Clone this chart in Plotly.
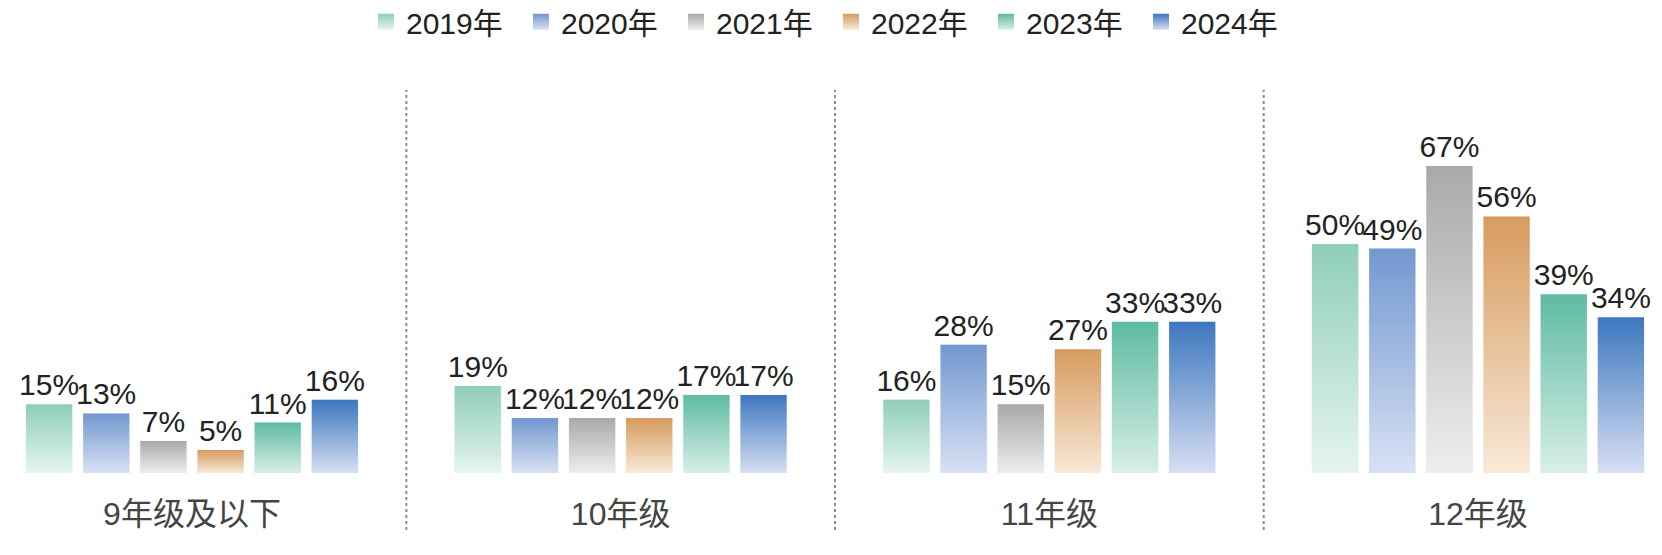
import plotly.graph_objects as go

categories = ["9年级及以下", "10年级", "11年级", "12年级"]
years = ["2019年", "2020年", "2021年", "2022年", "2023年", "2024年"]
values = {
    "2019年": [15, 19, 16, 50],
    "2020年": [13, 12, 28, 49],
    "2021年": [7, 12, 15, 67],
    "2022年": [5, 12, 27, 56],
    "2023年": [11, 17, 33, 39],
    "2024年": [16, 17, 33, 34],
}
top_colors = ["#8fceb9", "#7298d0", "#a9a9ab", "#d79b5e", "#5ebba2", "#3d77bf"]
bottom_colors = ["#e6f5ef", "#d8e1f4", "#eeeeee", "#f8e9d8", "#d9efe8", "#d7dff3"]

FONT = "Liberation Sans, Arial, Noto Sans CJK SC, sans-serif"
n = len(years)
group_width = 0.8
pitch = group_width / n
bar_w = pitch * (1 - 0.19)

fig = go.Figure()
for i, yr in enumerate(years):
    off = (i - (n - 1) / 2) * pitch
    # gradient-filled bar bodies (one per bar so each gradient spans its own height)
    for j, cat in enumerate(categories):
        v = values[yr][j]
        x0 = j + off - bar_w / 2
        x1 = j + off + bar_w / 2
        fig.add_trace(go.Scatter(
            x=[x0, x0, x1, x1, x0], y=[0, v, v, 0, 0],
            mode="lines", line=dict(width=0), fill="toself",
            fillgradient=dict(type="vertical",
                              colorscale=[[0, bottom_colors[i]], [1, top_colors[i]]]),
            name=yr, legendgroup=yr, showlegend=False,
            hoverinfo="skip",
        ))
    # bars carrying value labels / hover
    fig.add_trace(go.Bar(
        x=list(range(len(categories))), y=values[yr],
        width=bar_w, offset=off - bar_w / 2,
        marker=dict(color="rgba(0,0,0,0)"),
        text=[f"{v}%" for v in values[yr]], textposition="outside",
        constraintext="none",
        textfont=dict(size=30, color="#222222", family=FONT),
        cliponaxis=False, showlegend=False, name=yr, legendgroup=yr,
        hovertemplate="%{y}%<extra>" + yr + "</extra>",
    ))
    # legend entry: gradient square
    fig.add_trace(go.Scatter(
        x=[None], y=[None], mode="markers", name=yr, legendgroup=yr,
        marker=dict(symbol="square", size=16, color=top_colors[i],
                    gradient=dict(type="vertical", color=bottom_colors[i]),
                    line=dict(width=0)),
        showlegend=True, hoverinfo="skip",
    ))

for k in range(len(categories) - 1):
    fig.add_shape(type="line", xref="x", yref="paper",
                  x0=k + 0.5, x1=k + 0.5, y0=-0.149, y1=1.0,
                  line=dict(color="#8a8a8a", width=2, dash="3px,3px"))

fig.update_layout(
    width=1662, height=555,
    margin=dict(l=0, r=0, t=90, b=82, autoexpand=False),
    barmode="overlay",
    plot_bgcolor="white", paper_bgcolor="white",
    font=dict(family=FONT, color="#333333"),
    showlegend=True,
    legend=dict(orientation="h", x=0.5, xanchor="center", y=1.178, yanchor="middle",
                font=dict(size=30, color="#222222", family=FONT),
                itemwidth=30, itemsizing="trace", tracegroupgap=0,
                entrywidth=110, entrywidthmode="pixels"),
    xaxis=dict(range=[-0.4479, 3.4292], tickvals=list(range(len(categories))),
               ticktext=categories, tickfont=dict(size=32, color="#444444", family=FONT),
               ticks="outside", ticklen=13, tickcolor="rgba(0,0,0,0)",
               showgrid=False, zeroline=False, showline=False),
    yaxis=dict(range=[0, 83.6], visible=False, showgrid=False, zeroline=False),
)

fig.write_html("out.html",
               config={"displayModeBar": False},
               post_script="document.body.style.margin='0';document.body.style.overflow='hidden';")
